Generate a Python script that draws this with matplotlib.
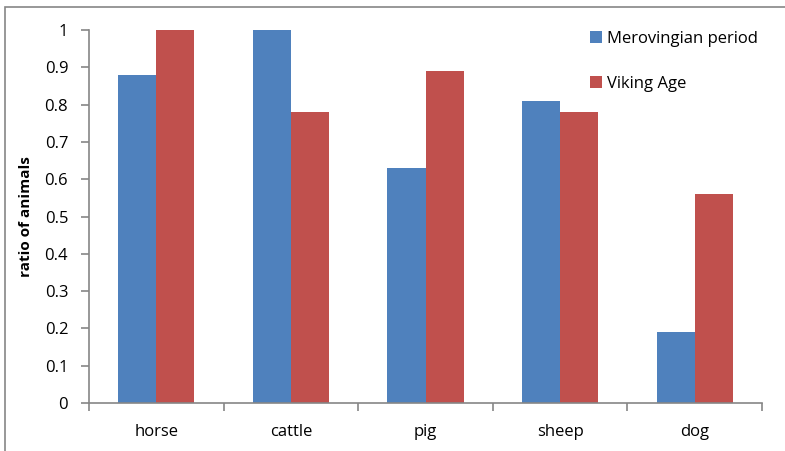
import numpy as np
import matplotlib
matplotlib.use('Agg')
import matplotlib.pyplot as plt
from matplotlib.patches import Rectangle

# animal ratios per period
animals = ['horse', 'cattle', 'pig', 'sheep', 'dog']
merovingian = [0.88, 1.0, 0.63, 0.81, 0.19]
viking = [1.0, 0.78, 0.89, 0.78, 0.56]
yticks = [0, 0.1, 0.2, 0.3, 0.4, 0.5, 0.6, 0.7, 0.8, 0.9, 1]
ytick_labels = ['0', '0.1', '0.2', '0.3', '0.4', '0.5', '0.6', '0.7', '0.8', '0.9', '1']

plt.rcParams['font.family'] = ['Open Sans', 'DejaVu Sans']

blue = '#4f81bd'
red = '#c0504d'
grey = '#868686'

fig = plt.figure(figsize=(7.85, 4.51), dpi=100)
ax = fig.add_axes([0.1134, 0.1064, 0.8573, 0.8271])

x = np.arange(len(animals))
w = 0.283
ax.bar(x - w / 2, merovingian, w, color=blue, label='Merovingian period')
ax.bar(x + w / 2, viking, w, color=red, label='Viking Age')

ax.set_xlim(-0.5, len(animals) - 0.5)
ax.set_ylim(0, 1)
ax.set_yticks(yticks)
ax.set_yticklabels(ytick_labels)
ax.set_xticks(x)
ax.set_xticklabels(animals)
ax.set_xticks(np.arange(len(animals) + 1) - 0.5, minor=True)

for s in ['top', 'right']:
    ax.spines[s].set_visible(False)
for s in ['left', 'bottom']:
    ax.spines[s].set_color(grey)
    ax.spines[s].set_linewidth(1.2)

ax.tick_params(axis='y', length=6, width=1.2, color=grey, pad=9, labelsize=12)
ax.tick_params(axis='x', which='major', length=0, pad=15, labelsize=12)
ax.tick_params(axis='x', which='minor', length=6, width=1.2, color=grey)

ax.set_ylabel('ratio of animals', fontsize=11, fontweight='bold', labelpad=8)

fig.legend(loc='upper left', bbox_to_anchor=(0.733, 0.965), frameon=False,
           handlelength=0.7, handleheight=0.7, handletextpad=0.3,
           labelspacing=1.75, fontsize=12)

# outer chart border
fig.add_artist(Rectangle((5 / 785, -0.1), 1.2, 1.1 - 7 / 451,
                         transform=fig.transFigure, fill=False,
                         edgecolor=grey, linewidth=1.2))

fig.savefig('out.png', dpi=100)
